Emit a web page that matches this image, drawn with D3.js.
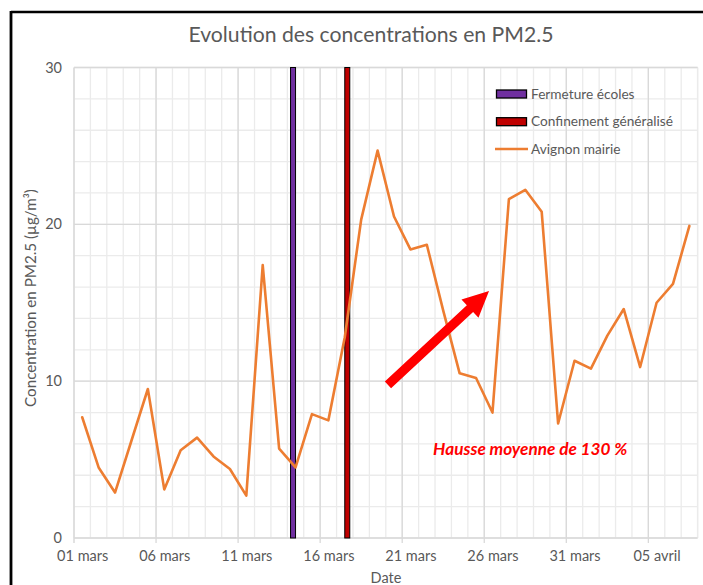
<!DOCTYPE html>
<html>
<head>
<meta charset="utf-8">
<script src="https://cdn.jsdelivr.net/npm/d3@7"></script>
<style>
  body { margin: 0; background: #fff; }
  svg { display: block; font-family: Lato, "Open Sans", sans-serif; }
</style>
</head>
<body>
<script>
// Data
var dates = ["2020-03-01","2020-03-02","2020-03-03","2020-03-04","2020-03-05","2020-03-06","2020-03-07",
  "2020-03-08","2020-03-09","2020-03-10","2020-03-11","2020-03-12","2020-03-13","2020-03-14","2020-03-15",
  "2020-03-16","2020-03-17","2020-03-18","2020-03-19","2020-03-20","2020-03-21","2020-03-22","2020-03-23",
  "2020-03-24","2020-03-25","2020-03-26","2020-03-27","2020-03-28","2020-03-29","2020-03-30","2020-03-31",
  "2020-04-01","2020-04-02","2020-04-03","2020-04-04","2020-04-05","2020-04-06","2020-04-07"];
var pm25 = [7.7, 4.5, 2.9, 6.2, 9.5, 3.1, 5.6, 6.4, 5.2, 4.4, 2.7, 17.4, 5.7, 4.5, 7.9, 7.5, 12.8, 20.3,
  24.7, 20.5, 18.4, 18.7, 14.5, 10.5, 10.2, 8.0, 21.6, 22.2, 20.8, 7.3, 11.3, 10.8, 12.9, 14.6, 10.9,
  15.0, 16.2, 19.9];
var seriesName = "Avignon mairie";

var eventNames = ["Fermeture écoles", "Confinement généralisé"];
var eventDates = ["2020-03-14", "2020-03-17"];
var eventValues = [30, 30];
var eventColors = ["#7030A0", "#C00000"];

var tickDates = ["2020-03-01","2020-03-06","2020-03-11","2020-03-16","2020-03-21","2020-03-26","2020-03-31","2020-04-05"];
var tickLabels = ["01 mars","06 mars","11 mars","16 mars","21 mars","26 mars","31 mars","05 avril"];
var yTicks = [0, 10, 20, 30];

var annotation = "Hausse moyenne de 130 %";

document.addEventListener("DOMContentLoaded", function(){
  var width = 703, height = 585;
  var left = 74, right = 697.6, top = 67.5, bottom = 538;
  var parse = d3.utcParse("%Y-%m-%d");
  var halfDay = 12 * 3600 * 1000;

  var svg = d3.select("body").append("svg")
    .attr("width", width).attr("height", height);

  var x = d3.scaleUtc()
    .domain([parse(dates[0]), d3.utcDay.offset(parse(dates[dates.length - 1]), 1)])
    .range([left, right]);
  var y = d3.scaleLinear().domain([0, 30]).range([bottom, top]);
  var mid = function(s) { return new Date(+parse(s) + halfDay); };

  // frame (cropped box)
  svg.append("line").attr("x1", 11).attr("x2", 11).attr("y1", 11).attr("y2", height)
    .attr("stroke", "#000").attr("stroke-width", 2.8);
  svg.append("line").attr("x1", 11).attr("x2", width).attr("y1", 12).attr("y2", 12)
    .attr("stroke", "#000").attr("stroke-width", 2.5);

  // title
  svg.append("text").attr("x", 371).attr("y", 42).attr("text-anchor", "middle")
    .attr("font-size", 21.2).attr("fill", "#595959")
    .text("Evolution des concentrations en PM2.5");

  // grid
  var days = x.ticks(d3.utcDay.every(1)).concat([x.domain()[1]]);
  var g = svg.append("g");
  g.selectAll(".vminor").data(days).enter().append("line")
    .attr("x1", function(d){ return x(d); }).attr("x2", function(d){ return x(d); })
    .attr("y1", top).attr("y2", bottom).attr("stroke", "#EBEBEB").attr("stroke-width", 1.3);
  var yMinor = d3.range(0, 31, 2);
  g.selectAll(".hminor").data(yMinor).enter().append("line")
    .attr("x1", left).attr("x2", right)
    .attr("y1", function(d){ return y(d); }).attr("y2", function(d){ return y(d); })
    .attr("stroke", "#EBEBEB").attr("stroke-width", 1.3);
  g.selectAll(".vmajor").data(tickDates.slice(1)).enter().append("line")
    .attr("x1", function(d){ return x(parse(d)); }).attr("x2", function(d){ return x(parse(d)); })
    .attr("y1", top).attr("y2", bottom + 5).attr("stroke", "#D9D9D9").attr("stroke-width", 1.3);
  g.selectAll(".hmajor").data(yTicks.slice(1)).enter().append("line")
    .attr("x1", left).attr("x2", right)
    .attr("y1", function(d){ return y(d); }).attr("y2", function(d){ return y(d); })
    .attr("stroke", "#D9D9D9").attr("stroke-width", 1.3);
  // axis lines
  g.append("line").attr("x1", left).attr("x2", right).attr("y1", bottom).attr("y2", bottom)
    .attr("stroke", "#D9D9D9").attr("stroke-width", 1.5);
  g.append("line").attr("x1", left).attr("x2", left).attr("y1", top).attr("y2", bottom + 5)
    .attr("stroke", "#D9D9D9").attr("stroke-width", 1.5);

  // axes labels
  var xAxis = d3.axisBottom(x).tickValues(tickDates.map(mid)).tickSize(0).tickPadding(0)
    .tickFormat(function(d, i){ return tickLabels[i]; });
  var xg = svg.append("g").attr("transform", "translate(0," + (bottom + 13) + ")").call(xAxis);
  xg.select(".domain").remove();
  xg.selectAll("text").attr("dy", "0.71em").attr("fill", "#595959")
    .attr("font-size", 14.5).attr("font-family", "Lato, sans-serif");

  var yAxis = d3.axisLeft(y).tickValues(yTicks).tickSize(0).tickPadding(0);
  var yg = svg.append("g").attr("transform", "translate(62,0)").call(yAxis);
  yg.select(".domain").remove();
  yg.selectAll("text").attr("fill", "#595959").attr("font-size", 14.5)
    .attr("font-family", "Lato, sans-serif");

  svg.append("text").attr("transform", "translate(36,298) rotate(-90)")
    .attr("text-anchor", "middle").attr("font-size", 15.2).attr("fill", "#595959")
    .text("Concentration en PM2.5 (µg/m³)");
  svg.append("text").attr("x", 386).attr("y", 583).attr("text-anchor", "middle")
    .attr("font-size", 14.5).attr("fill", "#595959").text("Date");

  // event bars (clustered: first series left of day centre, second right)
  var bw = 5;
  svg.selectAll(".event").data(eventNames).enter().append("rect")
    .attr("x", function(d, i){ return x(mid(eventDates[i])) + (i - 1) * bw; })
    .attr("y", function(d, i){ return y(eventValues[i]); })
    .attr("width", bw)
    .attr("height", function(d, i){ return y(0) - y(eventValues[i]); })
    .attr("fill", function(d, i){ return eventColors[i]; })
    .attr("stroke", "#000").attr("stroke-width", 1);

  // line series
  var line = d3.line()
    .x(function(d, i){ return x(mid(dates[i])); })
    .y(function(d){ return y(d); });
  svg.append("path").datum(pm25).attr("d", line)
    .attr("fill", "none").attr("stroke", "#ED7D31").attr("stroke-width", 2.6)
    .attr("stroke-linejoin", "round").attr("stroke-linecap", "round");

  // legend
  var lg = svg.append("g");
  var ly = [94, 121.7, 149];
  eventNames.forEach(function(n, i){
    lg.append("rect").attr("x", 496.5).attr("y", ly[i] - 4).attr("width", 30).attr("height", 8)
      .attr("fill", eventColors[i]).attr("stroke", "#000").attr("stroke-width", 1.3);
    lg.append("text").attr("x", 531).attr("y", ly[i]).attr("dy", "0.35em")
      .attr("font-size", 13.7).attr("fill", "#595959").text(n);
  });
  lg.append("line").attr("x1", 495).attr("x2", 528).attr("y1", ly[2]).attr("y2", ly[2])
    .attr("stroke", "#ED7D31").attr("stroke-width", 2.6);
  lg.append("text").attr("x", 531).attr("y", ly[2]).attr("dy", "0.35em")
    .attr("font-size", 13.7).attr("fill", "#595959").text(seriesName);

  // annotation arrow, placed in data space (day offset from 1 March, value)
  var day0 = parse(dates[0]);
  var at = function(dd, v){ return [x(new Date(+day0 + dd * 864e5)), y(v)]; };
  var p0 = at(19.13, 9.76), p1 = at(25.29, 15.75);
  var dx = p1[0] - p0[0], dy = p1[1] - p0[1], len = Math.sqrt(dx*dx + dy*dy);
  var ux = dx / len, uy = dy / len, nx = -uy, ny = ux;
  var sw = 4.6, hw = 12.5, hl = 26;
  var b = [p1[0] - ux * hl, p1[1] - uy * hl];
  var pts = [
    [p0[0] + nx*sw, p0[1] + ny*sw], [b[0] + nx*sw, b[1] + ny*sw], [b[0] + nx*hw, b[1] + ny*hw],
    p1, [b[0] - nx*hw, b[1] - ny*hw], [b[0] - nx*sw, b[1] - ny*sw], [p0[0] - nx*sw, p0[1] - ny*sw]
  ];
  svg.append("polygon").attr("points", pts.map(function(p){ return p.join(","); }).join(" "))
    .attr("fill", "#FF0000");

  var tp = at(27.8, 5.7);
  svg.append("text").attr("x", tp[0]).attr("y", tp[1]).attr("dy", "0.35em")
    .attr("text-anchor", "middle").attr("font-size", 17.2).attr("font-weight", "bold")
    .attr("font-style", "italic").attr("fill", "#FF0000").text(annotation);
});
</script>
</body>
</html>
